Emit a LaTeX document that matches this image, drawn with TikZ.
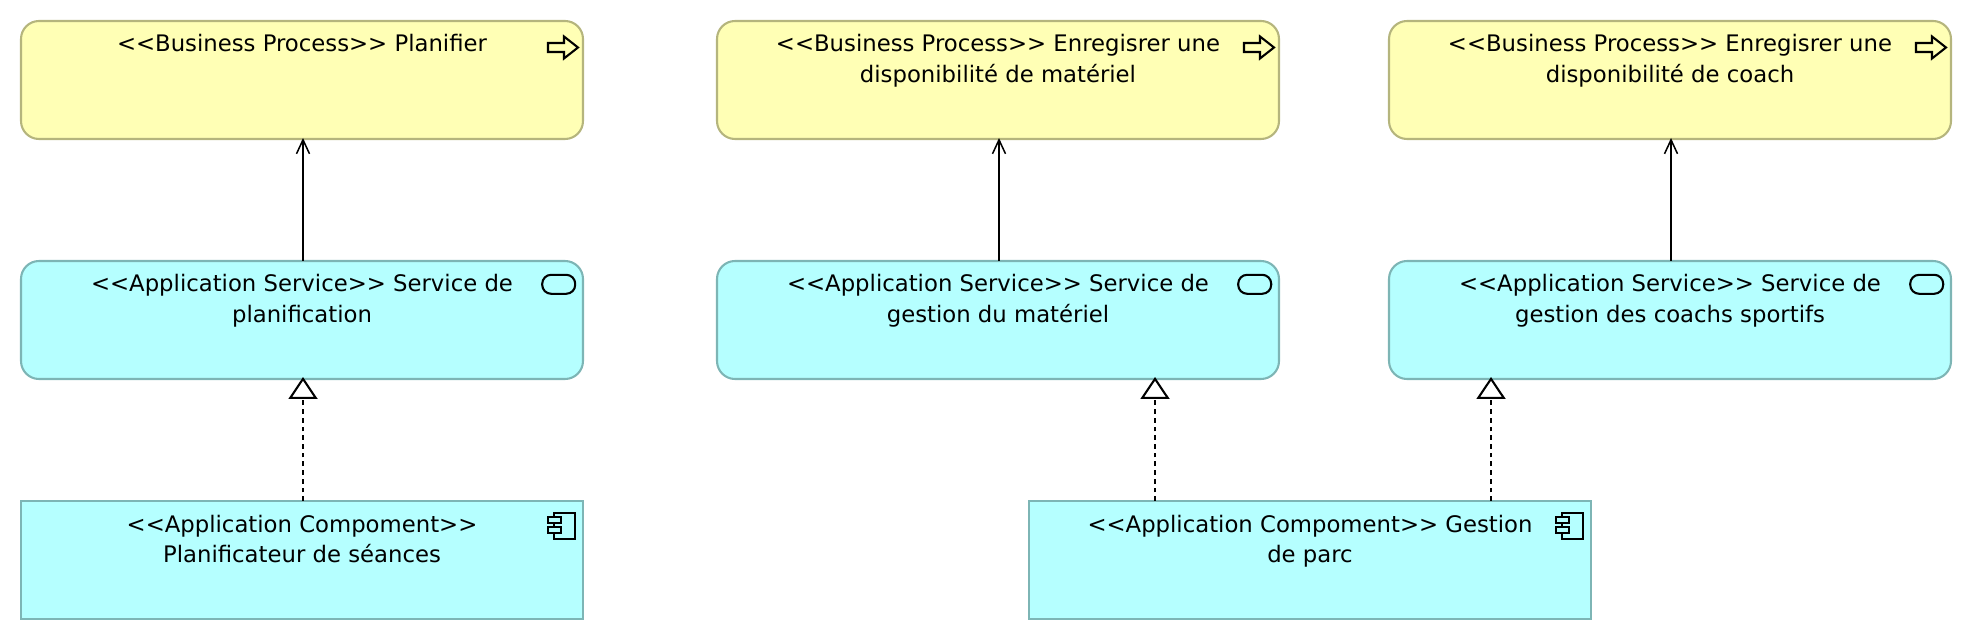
\documentclass[tikz,border=0pt]{standalone}
\usepackage{fontspec}
\setmainfont{DejaVu Sans}
\usetikzlibrary{arrows.meta}
\definecolor{procfill}{HTML}{FFFFB5}
\definecolor{procline}{HTML}{B5B57D}
\definecolor{appfill}{HTML}{B5FFFF}
\definecolor{appline}{HTML}{7DB5B5}
\newcommand{\stereo}[1]{<{}<#1>{}>}
\newcommand{\boxhead}[1]{\parbox[c][1.18in][t]{5.62in}{\fontsize{16.45}{21.7}\selectfont\centering\rule{0pt}{0.31in}#1}}
\tikzset{
  archibox/.style={draw, line width=1.5pt, inner sep=0pt, outer sep=0pt, minimum width=5.62in, minimum height=1.18in},
  procbox/.style={archibox, fill=procfill, draw=procline, rounded corners=0.18in},
  servbox/.style={archibox, fill=appfill, draw=appline, rounded corners=0.18in},
  compbox/.style={archibox, fill=appfill, draw=appline},
  serves/.style={line width=1.5pt, shorten >=-0.01in, -{Straight Barb[length=0.14in,width=0.13in,line width=1.1pt]}},
  realizes/.style={line width=1.3pt, dash pattern=on 3.4pt off 2.9pt, shorten >=-0.02in, -{Triangle[open,fill=white,length=0.22in,width=0.29in,line width=1.5pt]}},
  icon/.style={line width=1.5pt},
  pics/procicon/.style={code={
    \draw[icon] (-0.35,-0.22) -- (-0.19,-0.22) -- (-0.19,-0.155) -- (-0.05,-0.265) -- (-0.19,-0.375) -- (-0.19,-0.31) -- (-0.35,-0.31) -- cycle;
  }},
  pics/servicon/.style={code={
    \draw[icon, rounded corners=0.09in] (-0.408,-0.138) rectangle (-0.078,-0.328);
  }},
  pics/compicon/.style={code={
    \draw[icon] (-0.288,-0.116) rectangle (-0.078,-0.383);
    \draw[icon, fill=appfill] (-0.352,-0.16) rectangle (-0.222,-0.216);
    \draw[icon, fill=appfill] (-0.352,-0.26) rectangle (-0.222,-0.316);
  }},
}

\begin{document}
\begin{tikzpicture}[x=1in,y=1in]
\useasboundingbox (0,0) rectangle (19.72,6.40);
% top row
\node[procbox] (planifier) at (3.02,5.60) {\boxhead{\stereo{Business Process} Planifier}};
\node[procbox] (dispomateriel) at (9.98,5.60) {\boxhead{\stereo{Business Process} Enregisrer une\\disponibilité de matériel}};
\node[procbox] (dispocoach) at (16.70,5.60) {\boxhead{\stereo{Business Process} Enregisrer une\\disponibilité de coach}};
% services
\node[servbox] (servplanif) at (3.02,3.20) {\boxhead{\stereo{Application Service} Service de\\planification}};
\node[servbox] (servmateriel) at (9.98,3.20) {\boxhead{\stereo{Application Service} Service de\\gestion du matériel}};
\node[servbox] (servcoach) at (16.70,3.20) {\boxhead{\stereo{Application Service} Service de\\gestion des coachs sportifs}};
% components
\node[compbox] (planificateur) at (3.02,0.80) {\boxhead{\stereo{Application Compoment}\\Planificateur de séances}};
\node[compbox] (gestionparc) at (13.10,0.80) {\boxhead{\stereo{Application Compoment} Gestion\\de parc}};
% icons
\pic at (planifier.north east) {procicon};
\pic at (dispomateriel.north east) {procicon};
\pic at (dispocoach.north east) {procicon};
\pic at (servplanif.north east) {servicon};
\pic at (servmateriel.north east) {servicon};
\pic at (servcoach.north east) {servicon};
\pic at (planificateur.north east) {compicon};
\pic at (gestionparc.north east) {compicon};
% connectors
\coordinate (toplanif) at (3.03,0);
\coordinate (todispomat) at (9.99,0);
\coordinate (todispocoach) at (16.71,0);
\coordinate (tomateriel) at (11.55,0);
\coordinate (tocoach) at (14.91,0);
\draw[serves] (servplanif.north -| toplanif) -- (planifier.south -| toplanif);
\draw[serves] (servmateriel.north -| todispomat) -- (dispomateriel.south -| todispomat);
\draw[serves] (servcoach.north -| todispocoach) -- (dispocoach.south -| todispocoach);
\draw[realizes] (planificateur.north -| toplanif) -- (servplanif.south -| toplanif);
\draw[realizes] (gestionparc.north -| tomateriel) -- (servmateriel.south -| tomateriel);
\draw[realizes] (gestionparc.north -| tocoach) -- (servcoach.south -| tocoach);
\end{tikzpicture}
\end{document}
